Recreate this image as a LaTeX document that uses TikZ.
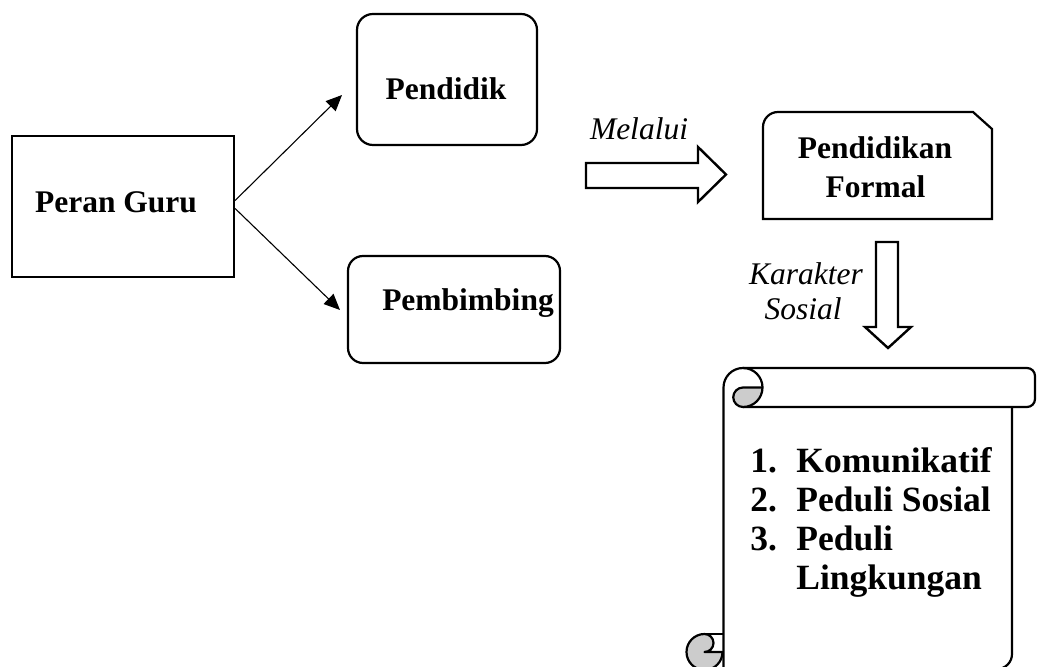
\documentclass[tikz,border=0pt]{standalone}
\usepackage{fontspec}
\setmainfont{Liberation Serif}
\usetikzlibrary{arrows.meta,calc}
\begin{document}
\begin{tikzpicture}[x=0.5pt,y=0.5pt,
  box/.style={draw,line width=1.1pt,inner sep=0pt},
  lbl/.style={font=\fontsize{15.75}{19}\selectfont\bfseries, anchor=base, inner sep=0pt},
  ilbl/.style={font=\fontsize{15.75}{19}\selectfont\itshape, anchor=base, inner sep=0pt},
  li/.style={font=\fontsize{17.75}{21}\selectfont\bfseries, anchor=base west, inner sep=0pt},
  thinarrow/.style={line width=0.55pt,-{Triangle[length=8pt,width=7pt]}},
  blockarrow/.style={draw,line width=1.2pt,fill=white,line join=miter},
  scrollline/.style={line width=1.1pt,line join=round},
  curl/.style={line width=1.1pt,fill=black!20,line join=round}]
\useasboundingbox (0,0) rectangle (1037,-667);

% boxes
\node[box,minimum width=111pt,minimum height=70.5pt] (guru) at (123,-206.5) {};
\node[box,rounded corners=8pt,minimum width=90pt,minimum height=65.5pt] (pend) at (447,-79.5) {};
\node[box,rounded corners=7.5pt,minimum width=106pt,minimum height=53.5pt] (pemb) at (454,-309.5) {};
\draw[line width=1.1pt] (763,-219) -- (763,-127) arc[start angle=180,end angle=90,radius=7.5pt]
  -- (973,-112) -- (992,-129) -- (992,-219) -- cycle;

% texts
\node[lbl] (t-guru) at (116,-213) {Peran Guru};
\node[lbl] (t-pend) at (446,-100) {Pendidik};
\node[lbl] (t-pemb) at (468,-311) {Pembimbing};
\node[lbl] (t-pf1) at (875,-159) {Pendidikan};
\node[lbl] (t-pf2) at (875.5,-198) {Formal};
\node[ilbl] (t-mel) at (639,-140) {Melalui};
\node[ilbl] (t-kar) at (806,-285) {Karakter};
\node[ilbl] (t-sos) at (803,-320) {Sosial};

% thin arrows
\coordinate (p1) at (342,-95);
\coordinate (p2) at (340,-310);
\draw[thinarrow] ($(guru.east)+(0,6)$) -- (p1);
\draw[thinarrow] ($(guru.east)+(0,-2)$) -- (p2);

% block arrows
\draw[blockarrow] (586,-163) -- (698,-163) -- (698,-147) -- (726,-174.5) -- (698,-202)
  -- (698,-188) -- (586,-188) -- cycle;
\draw[blockarrow] (876,-242) -- (898,-242) -- (898,-327) -- (911,-327) -- (888,-348)
  -- (865,-327) -- (876,-327) -- cycle;

% scroll
\draw[scrollline] (723.5,-669) -- (723.5,-387.5) arc[start angle=180,end angle=90,radius=9.75pt]
  -- (1027,-368) arc[start angle=90,end angle=0,radius=4pt]
  -- (1035,-399) arc[start angle=0,end angle=-90,radius=4pt]
  -- (743,-407);
\draw[scrollline] (743,-368) arc[start angle=90,end angle=0,radius=9.75pt];
\draw[curl] (743,-387.5) -- (762.5,-387.5) arc[start angle=0,end angle=-90,radius=9.75pt]
  arc[start angle=-90,end angle=-270,radius=4.875pt] -- cycle;
\draw[scrollline] (1012,-407) -- (1012,-654) arc[start angle=0,end angle=-90,radius=7.5pt]
  -- (723.5,-669);
\draw[curl] (704.5,-634) arc[start angle=90,end angle=360,radius=9pt]
  -- (704.5,-652) arc[start angle=-90,end angle=90,radius=4.5pt] -- cycle;
\draw[scrollline] (704.5,-634) -- (723.5,-634);

% list
\node[li] (n1) at (750,-472) {1.};
\node[li] (i1) at (796,-472) {Komunikatif};
\node[li] (n2) at (750,-511) {2.};
\node[li] (i2) at (796,-511) {Peduli Sosial};
\node[li] (n3) at (750,-550) {3.};
\node[li] (i3) at (796,-550) {Peduli};
\node[li] (i4) at (796,-589) {Lingkungan};
\end{tikzpicture}
\end{document}
